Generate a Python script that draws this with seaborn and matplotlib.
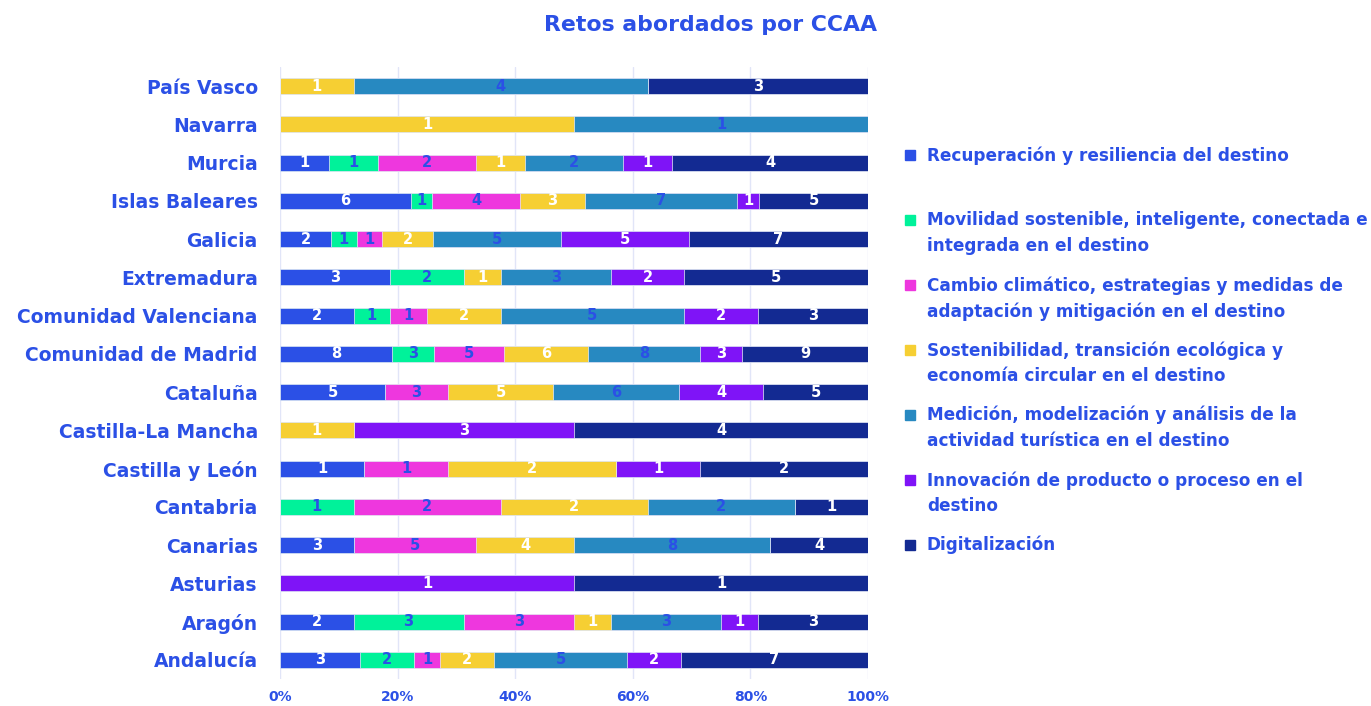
import matplotlib
matplotlib.use('Agg')
import matplotlib.pyplot as plt
from matplotlib.lines import Line2D
import seaborn as sns
import pandas as pd
import numpy as np

# CCAA (top to bottom as shown)
regions = ['País Vasco', 'Navarra', 'Murcia', 'Islas Baleares', 'Galicia', 'Extremadura',
           'Comunidad Valenciana', 'Comunidad de Madrid', 'Cataluña', 'Castilla-La Mancha',
           'Castilla y León', 'Cantabria', 'Canarias', 'Asturias', 'Aragón', 'Andalucía']

challenges = [
    'Recuperación y resiliencia del destino',
    'Movilidad sostenible, inteligente, conectada e\nintegrada en el destino',
    'Cambio climático, estrategias y medidas de\nadaptación y mitigación en el destino',
    'Sostenibilidad, transición ecológica y\neconomía circular en el destino',
    'Medición, modelización y análisis de la\nactividad turística en el destino',
    'Innovación de producto o proceso en el\ndestino',
    'Digitalización',
]

# counts per challenge, in region order
recuperacion    = [0, 0, 1, 6, 2, 3, 2, 8, 5, 0, 1, 0, 3, 0, 2, 3]
movilidad       = [0, 0, 1, 1, 1, 2, 1, 3, 0, 0, 0, 1, 0, 0, 3, 2]
cambio          = [0, 0, 2, 4, 1, 0, 1, 5, 3, 0, 1, 2, 5, 0, 3, 1]
sostenibilidad  = [1, 1, 1, 3, 2, 1, 2, 6, 5, 1, 2, 2, 4, 0, 1, 2]
medicion        = [4, 1, 2, 7, 5, 3, 5, 8, 6, 0, 0, 2, 8, 0, 3, 5]
innovacion      = [0, 0, 1, 1, 5, 2, 2, 3, 4, 3, 1, 0, 0, 1, 1, 2]
digitalizacion  = [3, 0, 4, 5, 7, 5, 3, 9, 5, 4, 2, 1, 4, 1, 3, 7]

colors = ['#2B50E6', '#00F29A', '#EE37DE', '#F6CF33', '#2789C1', '#7F14F7', '#132A92']
label_colors = ['white', '#2B50E6', '#2B50E6', 'white', '#2B50E6', 'white', 'white']
text_blue = '#2B50E6'

counts = np.array([recuperacion, movilidad, cambio, sostenibilidad,
                   medicion, innovacion, digitalizacion], dtype=float)
pct = counts / counts.sum(axis=0) * 100
cum = np.cumsum(pct, axis=0)

sns.set_style('white')
plt.rcParams['font.family'] = ['DejaVu Sans']
plt.rcParams['font.weight'] = 'bold'

fig = plt.figure(figsize=(13.71, 7.06), dpi=100)
ax = fig.add_axes([280 / 1371, 1 - 679 / 706, 588 / 1371, 612 / 706])

# stacked bars: draw cumulative totals from last to first so they overlay
for k in range(len(challenges) - 1, -1, -1):
    df = pd.DataFrame({'region': regions, 'value': cum[k]})
    sns.barplot(data=df, x='value', y='region', orient='h', color=colors[k],
                width=0.42, saturation=1, ax=ax, zorder=2,
                edgecolor='#E8ECF8', linewidth=0.5)

# segment labels
for k in range(len(challenges)):
    for i in range(len(regions)):
        if counts[k, i] > 0:
            center = cum[k, i] - pct[k, i] / 2
            ax.text(center, i, f'{int(counts[k, i])}', ha='center', va='center',
                    color=label_colors[k], fontsize=10.5, fontweight='bold', zorder=3)

ax.set_xlim(0, 100)
ax.set_ylim(len(regions) - 0.5, -0.5)
ax.set_xticks([0, 20, 40, 60, 80, 100])
ax.set_xticklabels(['0%', '20%', '40%', '60%', '80%', '100%'])
ax.xaxis.grid(True, color='#E1E5F8', linewidth=1, zorder=0)
ax.set_axisbelow(True)
for s in ax.spines.values():
    s.set_visible(False)
ax.set_xlabel('')
ax.set_ylabel('')
ax.tick_params(axis='x', length=0, pad=8, labelsize=10, labelcolor=text_blue)
ax.tick_params(axis='y', length=0, pad=16, labelsize=13.5, labelcolor=text_blue)
for lab in ax.get_xticklabels() + ax.get_yticklabels():
    lab.set_fontweight('bold')

fig.text(0.518, 0.965, 'Retos abordados por CCAA', ha='center', va='center',
         fontsize=15.8, fontweight='bold', color=text_blue)

# legend, one slot per challenge
for k, name in enumerate(challenges):
    y = 1 - (155 + 65 * k) / 706
    fig.add_artist(Line2D([910 / 1371], [y], marker='s', markersize=7.5,
                          color=colors[k], linestyle='none',
                          transform=fig.transFigure))
    fig.text(927 / 1371, y + 9 / 706, name, ha='left', va='top', fontsize=12.2,
             fontweight='bold', color=text_blue, linespacing=1.55)

fig.savefig('out.png', dpi=100)
